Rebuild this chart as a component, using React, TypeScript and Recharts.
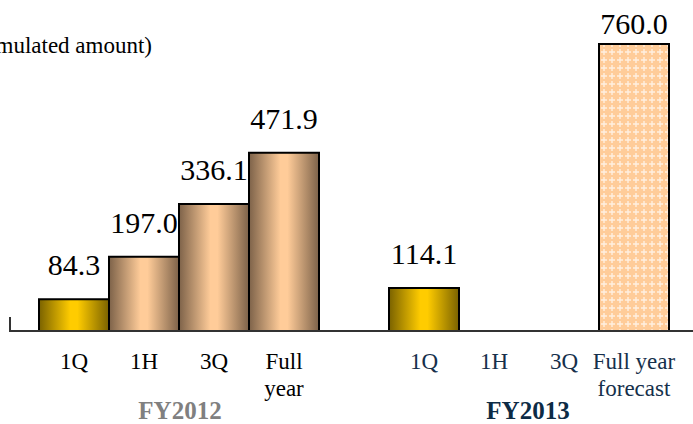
import React from 'react';
import { BarChart, Bar, XAxis, YAxis, Cell } from 'recharts';

// categories along the axis (one empty slot separates the two fiscal years)
const categories = ['1Q', '1H', '3Q', 'Full\nyear', '', '1Q', '1H', '3Q', 'Full year\nforecast'];
const fiscalYear = ['FY2012', 'FY2012', 'FY2012', 'FY2012', '', 'FY2013', 'FY2013', 'FY2013', 'FY2013'];
const amounts: (number | null)[] = [84.3, 197.0, 336.1, 471.9, null, 114.1, null, null, 760.0];
const barStyle = ['gold', 'tan', 'tan', 'tan', '', 'gold', '', '', 'forecast'];

const data = categories.map((name, i) => ({ name, fy: fiscalYear[i], value: amounts[i] }));

const FONT = "'Liberation Serif', 'Times New Roman', serif";
const NAVY = '#16304b';

const fillFor = (s: string) =>
  s === 'gold' ? 'url(#goldGrad)' : s === 'tan' ? 'url(#tanGrad)' : 'url(#forecastPat)';

const Tick = (props: any) => {
  const { x, y, payload, index } = props;
  const lines = String(payload.value).split('\n');
  const color = fiscalYear[index] === 'FY2013' ? NAVY : '#000';
  return (
    <text x={x} y={y} textAnchor="middle" style={{ fontFamily: FONT, fontSize: 23 }} fill={color}>
      {lines.map((l, i) => (
        <tspan key={i} x={x} dy={i === 0 ? 38 : 27}>{l}</tspan>
      ))}
    </text>
  );
};

const renderValueLabel = (props: any) => {
  const { x, y, width, value, index } = props;
  if (value == null) return <g key={index} />;
  return (
    <text
      key={index}
      className="val-label"
      x={Number(x) + Number(width) / 2}
      y={Math.max(Number(y) - 24, 34)}
      textAnchor="middle"
      fill="#000"
    >
      {Number(value).toFixed(1)}
    </text>
  );
};

export default function App() {
  return (
    <div style={{ position: 'absolute', left: 0, top: 0, width: 693, height: 424, background: '#fff', fontFamily: FONT, overflow: 'hidden' }}>
      <style>{`
        .recharts-wrapper text, .recharts-wrapper tspan { font-family: ${FONT} !important; }
        .val-label { font-size: 30px; }
      `}</style>
      <BarChart width={693} height={424} data={data} barCategoryGap={0} margin={{ top: 29, right: 0, bottom: 0, left: 10 }}>
        <defs>
          <linearGradient id="goldGrad" x1="0" y1="0" x2="1" y2="0">
            <stop offset="0%" stopColor="#7a6200" />
            <stop offset="45%" stopColor="#ffcc00" />
            <stop offset="55%" stopColor="#ffcc00" />
            <stop offset="100%" stopColor="#7a6200" />
          </linearGradient>
          <linearGradient id="tanGrad" x1="0" y1="0" x2="1" y2="0">
            <stop offset="0%" stopColor="#7d6249" />
            <stop offset="45%" stopColor="#ffcc99" />
            <stop offset="55%" stopColor="#ffcc99" />
            <stop offset="100%" stopColor="#7d6249" />
          </linearGradient>
          <pattern id="forecastPat" width="8" height="8" patternUnits="userSpaceOnUse">
            <rect width="8" height="8" fill="#ffcc99" />
            <path d="M4 1 L4 7 M1 4 L7 4" stroke="#fff" strokeWidth="1.4" opacity="0.7" />
          </pattern>
        </defs>
        <XAxis
          dataKey="name"
          height={93}
          padding={{ left: 29, right: 24 }}
          axisLine={{ stroke: '#333', strokeWidth: 2 }}
          tickLine={false}
          tickSize={0}
          tickMargin={0}
          interval={0}
          tick={<Tick />}
        />
        <YAxis hide domain={[0, 800]} />
        <Bar dataKey="value" stroke="#000" strokeWidth={2} isAnimationActive={false} label={renderValueLabel}>
          {data.map((d, i) => (
            <Cell key={i} fill={fillFor(barStyle[i])} />
          ))}
        </Bar>
      </BarChart>
      <div style={{ position: 'absolute', left: 9, top: 317, width: 2, height: 15, background: '#333' }} />
      <div style={{ position: 'absolute', right: 541, top: 33, fontSize: 23, whiteSpace: 'nowrap', color: '#000', fontFamily: FONT }}>
        (Accumulated amount)
      </div>
      <div style={{ position: 'absolute', left: 80, width: 200, textAlign: 'center', top: 397, fontSize: 25, fontWeight: 'bold', color: '#808080' }}>
        FY2012
      </div>
      <div style={{ position: 'absolute', left: 428, width: 200, textAlign: 'center', top: 397, fontSize: 25, fontWeight: 'bold', color: '#0d2b45' }}>
        FY2013
      </div>
    </div>
  );
}
